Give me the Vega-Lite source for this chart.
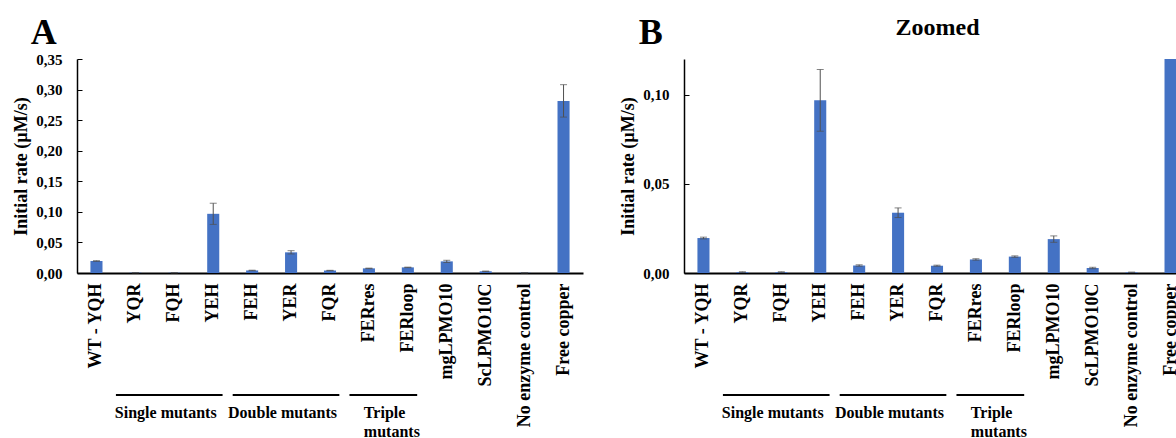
{
  "$schema": "https://vega.github.io/schema/vega-lite/v6.json",
  "padding": {"left": 12, "top": 15, "right": 0, "bottom": 0},
  "background": "white",
  "data": {"values": [
    {"sample": "WT - YQH", "rate": 0.0196, "err": 0.0005},
    {"sample": "YQR", "rate": 0.0005, "err": 0.0002},
    {"sample": "FQH", "rate": 0.0005, "err": 0.0002},
    {"sample": "YEH", "rate": 0.0968, "err": 0.0173},
    {"sample": "FEH", "rate": 0.0042, "err": 0.0004},
    {"sample": "YER", "rate": 0.0338, "err": 0.0027},
    {"sample": "FQR", "rate": 0.0041, "err": 0.0003},
    {"sample": "FERres", "rate": 0.0076, "err": 0.0004},
    {"sample": "FERloop", "rate": 0.0092, "err": 0.0004},
    {"sample": "mgLPMO10", "rate": 0.0190, "err": 0.0018},
    {"sample": "ScLPMO10C", "rate": 0.0028, "err": 0.0004},
    {"sample": "No enzyme control", "rate": 0.0004, "err": 0.0001},
    {"sample": "Free copper", "rate": 0.2815, "err": 0.0265}
  ]},
  "spacing": 36,
  "hconcat": [
    {
      "width": 506,
      "height": 214,
      "title": {"text": "A", "anchor": "start", "frame": "bounds", "dx": 18, "dy": 34, "offset": 6, "baseline": "alphabetic", "font": "Liberation Serif", "fontSize": 36, "fontWeight": "bold", "color": "black"},
      "resolve": {"axis": {"x": "independent"}},
      "layer": [
        {
          "mark": {"type": "bar", "color": "#4472C4", "width": {"band": 0.31}},
          "encoding": {
            "x": {"field": "sample", "type": "nominal", "sort": null,
              "scale": {"domain": ["WT - YQH", "YQR", "FQH", "YEH", "FEH", "YER", "FQR", "FERres", "FERloop", "mgLPMO10", "ScLPMO10C", "No enzyme control", "Free copper"], "paddingInner": 0, "paddingOuter": 0},
              "axis": {"title": null, "labelAngle": -90, "labelFont": "Liberation Serif", "labelFontWeight": "bold", "labelFontSize": 18, "labelColor": "black", "labelPadding": 10, "labelLimit": 300, "ticks": false, "domainColor": "black", "domainWidth": 2}},
            "y": {"field": "rate", "type": "quantitative", "title": "Initial rate (µM/s)", "scale": {"domain": [0, 0.35]},
              "axis": {"values": [0, 0.05, 0.1, 0.15, 0.2, 0.25, 0.3, 0.35], "labelExpr": "replace(format(datum.value, '.2f'), '.', ',')"}}
          }
        },
        {
          "mark": {"type": "errorbar", "ticks": {"size": 7, "color": "#505050", "strokeWidth": 1}, "rule": {"color": "#505050", "strokeWidth": 1}},
          "encoding": {
            "x": {"field": "sample", "type": "nominal", "sort": null, "axis": null},
            "y": {"field": "rate", "type": "quantitative", "title": "Initial rate (µM/s)",
              "axis": {"values": [0, 0.05, 0.1, 0.15, 0.2, 0.25, 0.3, 0.35], "labelExpr": "replace(format(datum.value, '.2f'), '.', ',')"}},
            "yError": {"field": "err"}
          }
        },
        {
          "data": {"values": [
            {"group": "Single mutants", "start": "YQR", "end": "YEH"},
            {"group": "Double mutants", "start": "FEH", "end": "FQR"},
            {"group": "Triple mutants", "start": "FERres", "end": "FERloop"}
          ]},
          "mark": {"type": "rule", "color": "black", "strokeWidth": 2},
          "encoding": {
            "x": {"field": "start", "type": "nominal", "bandPosition": 0, "axis": null},
            "x2": {"field": "end", "bandPosition": 0.74},
            "y": {"datum": -0.1995, "type": "quantitative", "title": "Initial rate (µM/s)",
              "axis": {"values": [0, 0.05, 0.1, 0.15, 0.2, 0.25, 0.3, 0.35], "labelExpr": "replace(format(datum.value, '.2f'), '.', ',')"}}
          }
        },
        {
          "data": {"values": [
            {"label": "Single mutants", "at": "FQH"},
            {"label": "Double mutants", "at": "YER"}
          ]},
          "mark": {"type": "text", "align": "center", "baseline": "top", "font": "Liberation Serif", "fontSize": 16, "fontWeight": "bold", "color": "black"},
          "encoding": {
            "x": {"field": "at", "type": "nominal", "bandPosition": 0.28, "axis": null},
            "y": {"datum": -0.216, "type": "quantitative", "title": "Initial rate (µM/s)",
              "axis": {"values": [0, 0.05, 0.1, 0.15, 0.2, 0.25, 0.3, 0.35], "labelExpr": "replace(format(datum.value, '.2f'), '.', ',')"}},
            "text": {"field": "label"}
          }
        },
        {
          "data": {"values": [
            {"label": "Triple\nmutants", "at": "FERres"}
          ]},
          "mark": {"type": "text", "align": "left", "baseline": "top", "lineBreak": "\n", "lineHeight": 19, "font": "Liberation Serif", "fontSize": 16, "fontWeight": "bold", "color": "black"},
          "encoding": {
            "x": {"field": "at", "type": "nominal", "bandPosition": 0.37, "axis": null},
            "y": {"datum": -0.216, "type": "quantitative", "title": "Initial rate (µM/s)",
              "axis": {"values": [0, 0.05, 0.1, 0.15, 0.2, 0.25, 0.3, 0.35], "labelExpr": "replace(format(datum.value, '.2f'), '.', ',')"}},
            "text": {"field": "label"}
          }
        }
      ]
    },
    {
      "width": 506,
      "height": 214,
      "title": {"text": "B", "anchor": "start", "frame": "bounds", "dx": 19, "dy": 65, "offset": 0, "baseline": "alphabetic", "font": "Liberation Serif", "fontSize": 36, "fontWeight": "bold", "color": "black"},
      "resolve": {"axis": {"x": "independent"}},
      "layer": [
        {
          "mark": {"type": "bar", "color": "#4472C4", "width": {"band": 0.31}, "clip": true},
          "encoding": {
            "x": {"field": "sample", "type": "nominal", "sort": null,
              "scale": {"domain": ["WT - YQH", "YQR", "FQH", "YEH", "FEH", "YER", "FQR", "FERres", "FERloop", "mgLPMO10", "ScLPMO10C", "No enzyme control", "Free copper"], "paddingInner": 0, "paddingOuter": 0},
              "axis": {"title": null, "labelAngle": -90, "labelFont": "Liberation Serif", "labelFontWeight": "bold", "labelFontSize": 18, "labelColor": "black", "labelPadding": 10, "labelLimit": 300, "ticks": false, "domainColor": "black", "domainWidth": 2}},
            "y": {"field": "rate", "type": "quantitative", "title": "Initial rate (µM/s)", "scale": {"domain": [0, 0.12]},
              "axis": {"values": [0, 0.05, 0.1], "labelExpr": "replace(format(datum.value, '.2f'), '.', ',')"}}
          }
        },
        {
          "transform": [{"filter": "datum.rate < 0.12"}],
          "mark": {"type": "errorbar", "ticks": {"size": 7, "color": "#505050", "strokeWidth": 1}, "rule": {"color": "#505050", "strokeWidth": 1}},
          "encoding": {
            "x": {"field": "sample", "type": "nominal", "sort": null, "axis": null},
            "y": {"field": "rate", "type": "quantitative", "title": "Initial rate (µM/s)",
              "axis": {"values": [0, 0.05, 0.1], "labelExpr": "replace(format(datum.value, '.2f'), '.', ',')"}},
            "yError": {"field": "err"}
          }
        },
        {
          "data": {"values": [
            {"group": "Single mutants", "start": "YQR", "end": "YEH"},
            {"group": "Double mutants", "start": "FEH", "end": "FQR"},
            {"group": "Triple mutants", "start": "FERres", "end": "FERloop"}
          ]},
          "mark": {"type": "rule", "color": "black", "strokeWidth": 2},
          "encoding": {
            "x": {"field": "start", "type": "nominal", "bandPosition": 0,
              "axis": {"orient": "top", "title": "Zoomed", "labels": false, "ticks": false, "domain": false, "titleFont": "Liberation Serif", "titleFontSize": 24, "titleFontWeight": "bold", "titleColor": "black", "titleBaseline": "alphabetic", "titlePadding": 25}},
            "x2": {"field": "end", "bandPosition": 0.74},
            "y": {"datum": -0.0684, "type": "quantitative", "title": "Initial rate (µM/s)",
              "axis": {"values": [0, 0.05, 0.1], "labelExpr": "replace(format(datum.value, '.2f'), '.', ',')"}}
          }
        },
        {
          "data": {"values": [
            {"label": "Single mutants", "at": "FQH"},
            {"label": "Double mutants", "at": "YER"}
          ]},
          "mark": {"type": "text", "align": "center", "baseline": "top", "font": "Liberation Serif", "fontSize": 16, "fontWeight": "bold", "color": "black"},
          "encoding": {
            "x": {"field": "at", "type": "nominal", "bandPosition": 0.28, "axis": null},
            "y": {"datum": -0.074, "type": "quantitative", "title": "Initial rate (µM/s)",
              "axis": {"values": [0, 0.05, 0.1], "labelExpr": "replace(format(datum.value, '.2f'), '.', ',')"}},
            "text": {"field": "label"}
          }
        },
        {
          "data": {"values": [
            {"label": "Triple\nmutants", "at": "FERres"}
          ]},
          "mark": {"type": "text", "align": "left", "baseline": "top", "lineBreak": "\n", "lineHeight": 19, "font": "Liberation Serif", "fontSize": 16, "fontWeight": "bold", "color": "black"},
          "encoding": {
            "x": {"field": "at", "type": "nominal", "bandPosition": 0.37, "axis": null},
            "y": {"datum": -0.074, "type": "quantitative", "title": "Initial rate (µM/s)",
              "axis": {"values": [0, 0.05, 0.1], "labelExpr": "replace(format(datum.value, '.2f'), '.', ',')"}},
            "text": {"field": "label"}
          }
        }
      ]
    }
  ],
  "config": {
    "font": "Liberation Serif",
    "view": {"stroke": null},
    "axisY": {"titleFont": "Liberation Serif", "titleFontSize": 18, "titleFontWeight": "bold", "titleColor": "black", "titlePadding": 5, "labelFont": "Liberation Serif", "labelFontSize": 15, "labelFontWeight": "bold", "labelColor": "black", "labelPadding": 20, "labelOverlap": false, "tickSize": -5, "tickColor": "black", "domainColor": "black", "domainWidth": 1.5, "grid": false}
  }
}
